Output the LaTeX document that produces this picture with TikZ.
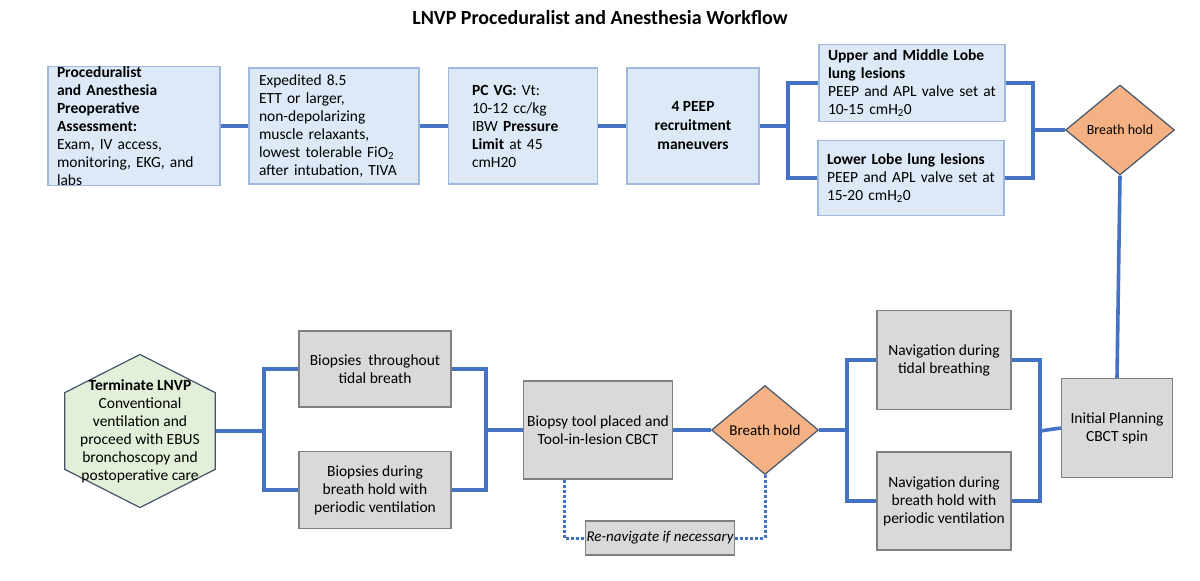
\documentclass[tikz,border=0pt]{standalone}
\usepackage{fontspec}
\setmainfont{Carlito}
\usetikzlibrary{shapes.geometric}
\hyphenpenalty=10000
\exhyphenpenalty=10000
\definecolor{bfill}{RGB}{221,233,247}
\definecolor{bdraw}{RGB}{160,186,222}
\definecolor{gfill}{RGB}{217,217,217}
\definecolor{gdraw}{RGB}{128,128,128}
\definecolor{ofill}{RGB}{244,177,131}
\definecolor{hfill}{RGB}{226,240,217}
\definecolor{edge}{RGB}{68,84,106}
\definecolor{conncol}{RGB}{68,114,196}
\begin{document}
\begin{tikzpicture}[x=1pt,y=-1pt,
  every node/.style={font=\fontsize{15.5}{18}\selectfont},
  blue/.style={draw=bdraw,fill=bfill,line width=1.4pt,inner sep=0pt},
  gray/.style={draw=gdraw,fill=gfill,line width=1.4pt,inner sep=0pt,align=center},
  dia/.style={diamond,aspect=1.15,draw=edge,fill=ofill,line width=1.2pt,inner sep=0pt},
  conn/.style={conncol,line width=3.6pt},
  dot/.style={conncol,line width=3pt,dotted}]
\useasboundingbox (0,0) rectangle (1200,581);
\node[font=\fontsize{20}{24}\selectfont\bfseries] (title) at (600,18) {LNVP Proceduralist and Anesthesia Workflow};
% top row
\node[blue,minimum width=172,minimum height=116,text width=154,align=left] (A) at (134,126)
 {\textbf{Proceduralist and Anesthesia Preoperative Assessment:}\\Exam, IV access, monitoring, EKG, and labs};
\node[blue,minimum width=170,minimum height=116,text width=150,align=left] (B) at (334,126)
 {Expedited 8.5 ETT or larger, non-depolarizing muscle relaxants, lowest tolerable FiO\textsubscript{2} after intubation, TIVA};
\node[blue,minimum width=149,minimum height=116,text width=102,align=left] (C) at (523,126)
 {\textbf{PC VG:} Vt: 10-12 cc/kg IBW \textbf{Pressure Limit} at 45 cmH20};
\node[blue,minimum width=132,minimum height=116,align=center,font=\fontsize{15.5}{19}\selectfont\bfseries] (D) at (693,126)
 {4 PEEP\\recruitment\\maneuvers};
\node[blue,minimum width=186,minimum height=77,text width=168,align=left] (E) at (912,83)
 {\textbf{Upper and Middle Lobe lung lesions}\\PEEP and APL valve set at 10-15 cmH\textsubscript{2}0};
\node[blue,minimum width=186,minimum height=75,text width=168,align=left] (F) at (911,178)
 {\textbf{Lower Lobe lung lesions}\\PEEP and APL valve set at 15-20 cmH\textsubscript{2}0};
\node[dia,minimum width=109,minimum height=90,font=\fontsize{14}{16}\selectfont] (BH1) at (1120,130) {Breath hold};
% bottom row
\node[gray,minimum width=111,minimum height=99] (IP) at (1117,428) {Initial Planning\\CBCT spin};
\node[gray,minimum width=134,minimum height=99] (N1) at (944,360) {Navigation during\\tidal breathing};
\node[gray,minimum width=134,minimum height=98] (N2) at (944,501) {Navigation during\\breath hold with\\periodic ventilation};
\node[dia,minimum width=107,minimum height=89,font=\fontsize{15}{17}\selectfont] (BH2) at (765,430) {Breath hold};
\node[gray,minimum width=149,minimum height=98] (BT) at (598,430) {Biopsy tool placed and\\Tool-in-lesion CBCT};
\node[gray,minimum width=149,minimum height=34,font=\fontsize{15}{17}\selectfont\itshape] (RN) at (660,538) {Re-navigate if necessary};
\node[gray,minimum width=152,minimum height=76] (B1) at (375,369) {Biopsies\ \ throughout\\tidal breath};
\node[gray,minimum width=152,minimum height=77] (B2) at (375,490) {Biopsies during\\breath hold with\\periodic ventilation};
\node[draw=edge,fill=hfill,line width=1.2pt,regular polygon,regular polygon sides=6,shape border rotate=90,
  minimum size=174,inner sep=0pt,yscale=0.88] (H) at (140,431) {};
\node[align=center] (Ht) at (140,431) {\textbf{Terminate LNVP}\\Conventional\\ventilation and\\proceed with EBUS\\bronchoscopy and\\postoperative care};
% connectors top
\draw[conn] (A.east) -- (B.west);
\draw[conn] (B.east) -- (C.west);
\draw[conn] (C.east) -- (D.west);
\coordinate (j1) at (788,126);
\coordinate (j2) at (1033,130);
\draw[conn] (D.east) -- (j1);
\draw[conn] (E.west) -| (j1) |- (F.west);
\draw[conn] (E.east) -| (j2) |- (F.east);
\draw[conn] (j2) -- (BH1.west);
\draw[conn] (BH1.south) -- (IP.north);
% bottom connectors
\coordinate (j3) at (1040,431);
\coordinate (j4) at (847,430);
\draw[conn] (IP.west) -- (j3);
\draw[conn] (N1.east) -| (j3) |- (N2.east);
\draw[conn] (N1.west) -| (j4) |- (N2.west);
\draw[conn] (j4) -- (BH2.east);
\draw[conn] (BH2.west) -- (BT.east);
\coordinate (j5) at (486,430);
\coordinate (j6) at (264,431);
\draw[conn] (BT.west) -- (j5);
\draw[conn] (B1.east) -| (j5) |- (B2.east);
\draw[conn] (B1.west) -| (j6) |- (B2.west);
\draw[conn] (j6) -- (H.east);
\draw[dot] (BT.south -| 564,0) |- (RN.west);
\draw[dot] (RN.east) -| (BH2.south);
\end{tikzpicture}
\end{document}
